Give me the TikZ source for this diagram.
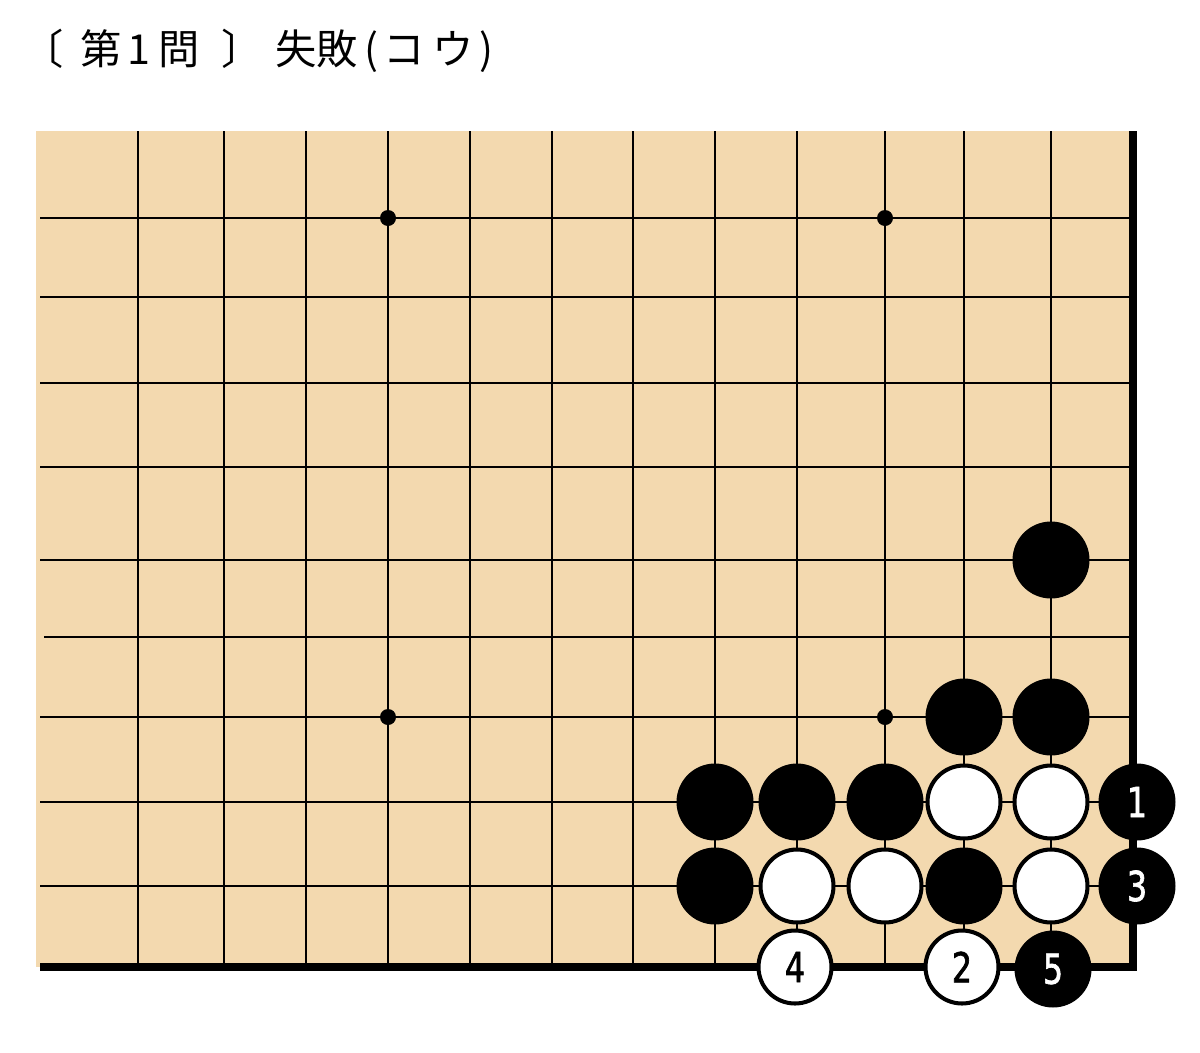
\documentclass[tikz,border=0pt]{standalone}
\usepackage{fontspec}
\usepackage{xcolor}
\usepackage{tikz}
\setmainfont{Noto Sans CJK JP}
\newfontfamily\numfont[FakeStretch=0.85, FakeBold=1.6]{DejaVu Sans Condensed}
\definecolor{board}{RGB}{243,217,175}
\tikzset{
  gridline/.style={line width=1.6pt},
  edgeline/.style={line width=4.4pt, line join=miter},
  hoshi/.style={circle, fill=black, inner sep=0pt, minimum size=0.32cm},
  bstone/.style={circle, fill=black, inner sep=0pt, minimum size=1.54cm, text=white, font=\numfont\fontsize{23.5pt}{23.5pt}\selectfont},
  wstone/.style={circle, draw=black, line width=2.3pt, fill=white, inner sep=0pt, minimum size=1.46cm, font=\numfont\fontsize{23.5pt}{23.5pt}\selectfont},
  titlechar/.style={anchor=base, inner sep=0pt, font=\fontsize{23.5pt}{23.5pt}\selectfont}
}

\begin{document}
\begin{tikzpicture}[x=0.02cm, y=-0.02cm]
\useasboundingbox (0,0) rectangle (1200,1052);
\foreach \x/\c [count=\i] in {43/〔, 101/第, 139/1, 179/問, 242/〕, 296/失, 337/敗, 371/{(}, 404/コ, 453/ウ, 486/{)}}
  \node[titlechar] (title\i) at (\x,64) {\c};

\fill[board] (36,131) rectangle (1133,967);
\foreach \x in {138,224,306,388,470,552,633,715,797,885,964,1051}
  \draw[gridline] (\x,131) -- (\x,967);
\foreach \y in {218,297,383,467,560,717,802,886}
  \draw[gridline] (40,\y) -- (1133,\y);
\draw[gridline] (44,637) -- (1133,637);
\draw[edgeline] (40,967) -- (1133,967) -- (1133,131);

\node[hoshi] (h1) at (388,218) {};
\node[hoshi] (h2) at (885,218) {};
\node[hoshi] (h3) at (388,717) {};
\node[hoshi] (h4) at (885,717) {};

\node[bstone] (b1) at (1051,560) {};
\node[bstone] (b2) at (964,717) {};
\node[bstone] (b3) at (1051,717) {};
\node[bstone] (b4) at (715,802) {};
\node[bstone] (b5) at (797,802) {};
\node[bstone] (b6) at (885,802) {};
\node[bstone] (b7) at (715,886) {};
\node[bstone] (b8) at (964,886) {};

\node[wstone] (w1) at (964,802) {};
\node[wstone] (w2) at (1051,802) {};
\node[wstone] (w3) at (797,886) {};
\node[wstone] (w4) at (885,886) {};
\node[wstone] (w5) at (1051,886) {};

\node[bstone] (m1) at (1137,802) {1};
\node[wstone] (m2) at (962,967) {2};
\node[bstone] (m3) at (1137,886) {3};
\node[wstone] (m4) at (795,967) {4};
\node[bstone] (m5) at (1053,969) {5};
\end{tikzpicture}
\end{document}
